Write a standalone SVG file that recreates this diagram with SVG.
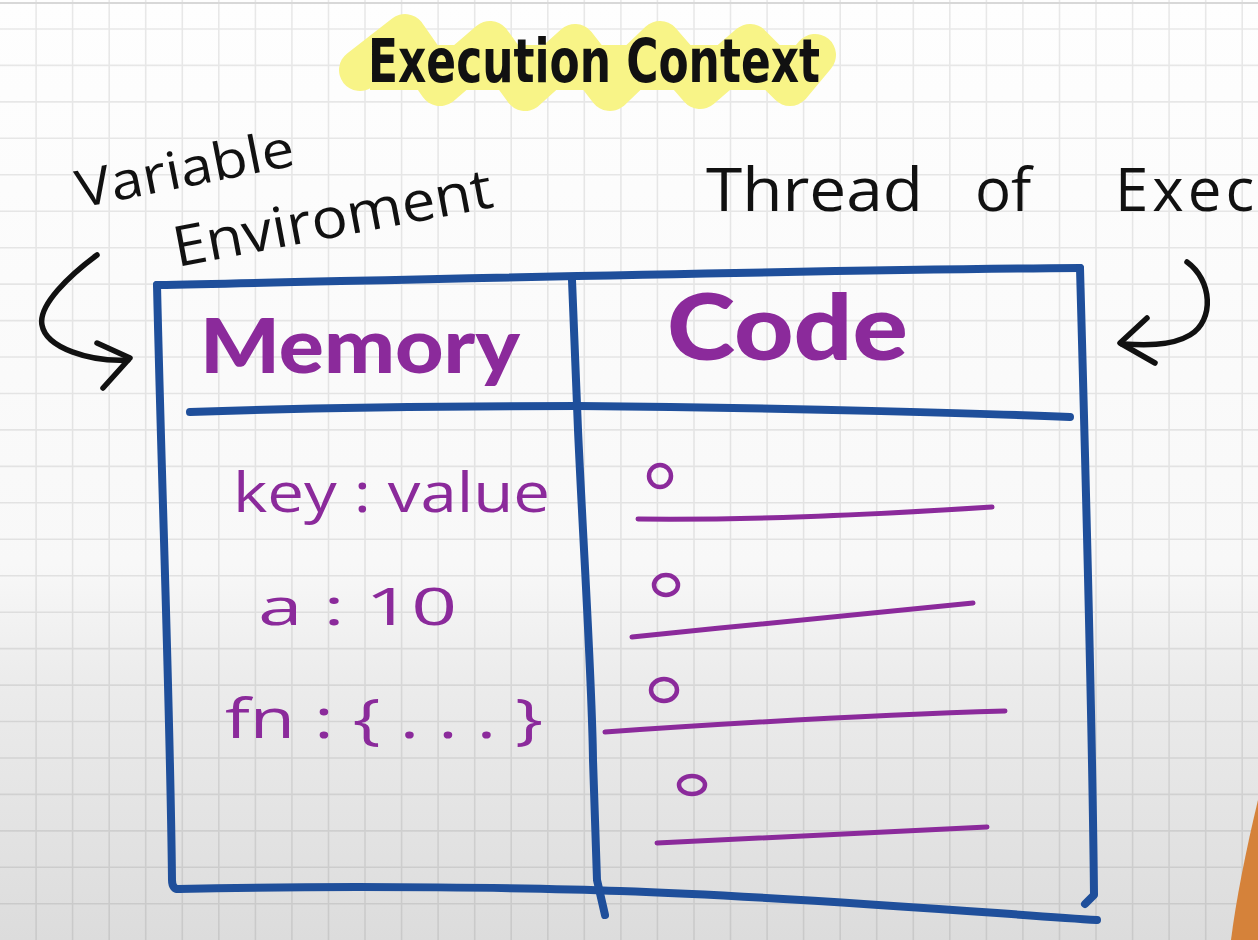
<svg xmlns="http://www.w3.org/2000/svg" width="1258" height="940" viewBox="0 0 1258 940">
<defs>
<linearGradient id="bg" x1="0" y1="0" x2="0" y2="1">
<stop offset="0" stop-color="#fefefe"/>
<stop offset="0.6" stop-color="#f8f8f8"/>
<stop offset="0.72" stop-color="#ececec"/>
<stop offset="1" stop-color="#dcdcdc"/>
</linearGradient>
<style>
.grid{fill:none;stroke:#000;stroke-opacity:0.085;stroke-width:1.6}
.blue{fill:none;stroke:#1f4f9b;stroke-width:8;stroke-linecap:round;stroke-linejoin:round}
.pline{fill:none;stroke:#8b2a9b;stroke-width:5;stroke-linecap:round;stroke-linejoin:round}
.bullet{fill:none;stroke:#8b2a9b;stroke-width:4.5}
.ink{fill:none;stroke:#111;stroke-width:5.5;stroke-linecap:round;stroke-linejoin:round}
.hand{font-family:"Open Sans","Liberation Sans",sans-serif;fill:#111}
.phand{font-family:"Open Sans","Liberation Sans",sans-serif;fill:#8b2a9b}
.pbold{font-family:Lato,"Open Sans","Liberation Sans",sans-serif;font-weight:900;fill:#8b2a9b}
</style>
</defs>
<rect width="1258" height="940" fill="url(#bg)"/>
<path class="grid" d="M36.1,0V940 M72.6,0V940 M109.2,0V940 M145.7,0V940 M182.3,0V940 M218.8,0V940 M255.4,0V940 M291.9,0V940 M328.5,0V940 M365,0V940 M401.6,0V940 M438.1,0V940 M474.7,0V940 M511.2,0V940 M547.8,0V940 M584.3,0V940 M620.9,0V940 M657.4,0V940 M694,0V940 M730.5,0V940 M767.1,0V940 M803.6,0V940 M840.2,0V940 M876.7,0V940 M913.3,0V940 M949.8,0V940 M986.4,0V940 M1022.9,0V940 M1059.5,0V940 M1096,0V940 M1132.6,0V940 M1169.1,0V940 M1205.7,0V940 M1242.2,0V940 M0,29H1258 M0,65.4H1258 M0,101.9H1258 M0,138.3H1258 M0,174.8H1258 M0,211.2H1258 M0,247.7H1258 M0,284.1H1258 M0,320.6H1258 M0,357H1258 M0,393.5H1258 M0,429.9H1258 M0,466.4H1258 M0,502.8H1258 M0,539.3H1258 M0,575.7H1258 M0,612.2H1258 M0,648.6H1258 M0,685.1H1258 M0,721.5H1258 M0,758H1258 M0,794.4H1258 M0,830.9H1258 M0,867.3H1258 M0,903.8H1258"/>
<line x1="0" y1="3" x2="1258" y2="3" stroke="#d8d8d8" stroke-width="2"/>
<path d="M1258,800 L1258,940 L1231,940 C1236,900 1246,850 1258,800 Z" fill="#d5823a"/>

<g id="title">
<path d="M360,70 L405,35 L440,85 L490,42 L525,90 L575,45 L610,90 L660,42 L700,88 L750,45 L790,85 L815,55" fill="none" stroke="#f8f487" stroke-width="42" stroke-linecap="round" stroke-linejoin="round"/>
<rect x="370" y="45" width="440" height="45" fill="#f8f487"/>
<text x="368" y="82" font-family="'DejaVu Sans Condensed','DejaVu Sans',sans-serif" font-weight="bold" font-size="60" textLength="452" lengthAdjust="spacingAndGlyphs" fill="#111">Execution Context</text>
</g>

<g id="label-variable-environment">
<text class="hand" font-size="52" transform="translate(80,208) rotate(-11.2)" textLength="221" lengthAdjust="spacingAndGlyphs">Variable</text>
<text class="hand" font-size="56" transform="translate(177,267) rotate(-10.7)" textLength="324" lengthAdjust="spacingAndGlyphs">Enviroment</text>
</g>

<g id="label-thread">
<text class="hand" font-size="60" y="211"><tspan x="706" textLength="217" lengthAdjust="spacingAndGlyphs">Thread</tspan><tspan x="975">of</tspan><tspan x="1115" letter-spacing="4">Exec</tspan></text>
</g>

<g id="table">
<path class="blue" d="M157,285 C400,280 800,270 1080,268"/>
<path class="blue" d="M1080,268 C1085,450 1092,700 1094,895 L1085,904"/>
<path class="blue" d="M157,285 C162,500 170,700 172,880 Q172,890 180,889"/>
<path class="blue" d="M178,889 C350,885 550,888 620,891 C800,897 1000,914 1097,920"/>
<path class="blue" d="M572,280 L578,430 C584,560 592,680 593,760 L597,880 L605,915"/>
<path class="blue" d="M190,412 C300,408 450,406 578,406 C800,408 1000,414 1070,417"/>
</g>

<g id="memory">
<text class="pbold" x="200" y="373" font-size="76" textLength="320" lengthAdjust="spacingAndGlyphs">Memory</text>
<text class="phand" x="233" y="512" font-size="54" textLength="317" lengthAdjust="spacingAndGlyphs">key : value</text>
<text class="phand" x="258" y="625" font-size="52" textLength="199" lengthAdjust="spacingAndGlyphs">a : 10</text>
<text class="phand" x="225" y="738" font-size="54" textLength="318" lengthAdjust="spacingAndGlyphs">fn : { . . . }</text>
</g>

<g id="code">
<text class="pbold" x="667" y="360" font-size="92" textLength="241" lengthAdjust="spacingAndGlyphs">Code</text>
<ellipse class="bullet" cx="660" cy="476" rx="11" ry="11"/>
<path class="pline" d="M638,519 C750,520 850,516 992,507"/>
<ellipse class="bullet" cx="666" cy="585" rx="12" ry="10"/>
<path class="pline" d="M632,637 C750,625 880,612 973,603"/>
<ellipse class="bullet" cx="664" cy="690" rx="13" ry="11"/>
<path class="pline" d="M605,732 C750,722 900,714 1005,711"/>
<ellipse class="bullet" cx="692" cy="785" rx="13" ry="9"/>
<path class="pline" d="M657,843 C780,838 900,832 987,827"/>
</g>

<g id="connectors">
<path class="ink" d="M97,255 C70,275 38,305 42,325 C46,348 90,362 128,360"/>
<path class="ink" d="M97,343 L130,358 L103,388"/>
<path class="ink" d="M1187,262 C1212,280 1215,320 1190,335 C1170,347 1140,345 1122,344"/>
<path class="ink" d="M1147,318 L1120,343 L1155,363"/>
</g>
</svg>
